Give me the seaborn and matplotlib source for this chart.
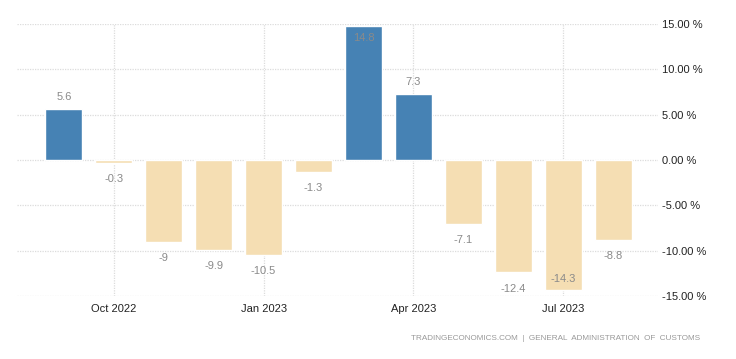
import matplotlib
matplotlib.use("Agg")
import matplotlib.pyplot as plt
import seaborn as sns
import pandas as pd

months = ["Sep 2022", "Oct 2022", "Nov 2022", "Dec 2022", "Jan 2023", "Feb 2023",
          "Mar 2023", "Apr 2023", "May 2023", "Jun 2023", "Jul 2023", "Aug 2023"]
values = [5.6, -0.3, -9.0, -9.9, -10.5, -1.3, 14.8, 7.3, -7.1, -12.4, -14.3, -8.8]
labels = ["5.6", "-0.3", "-9", "-9.9", "-10.5", "-1.3", "14.8", "7.3", "-7.1", "-12.4", "-14.3", "-8.8"]
tick_months = ["Oct 2022", "Jan 2023", "Apr 2023", "Jul 2023"]
yticks = [-15, -10, -5, 0, 5, 10, 15]

df = pd.DataFrame({"month": months, "value": values})
df["sign"] = ["pos" if v >= 0 else "neg" for v in values]

sns.set_theme(style="white")
plt.rcParams["font.family"] = ["Liberation Sans", "DejaVu Sans"]

fig = plt.figure(figsize=(7.36, 3.59), dpi=100)
ax = fig.add_axes([17 / 736, 1 - 296 / 359, (658 - 17) / 736, (296 - 24) / 359])

sns.barplot(data=df, x="month", y="value", hue="sign", order=months,
            palette={"pos": "#4682B4", "neg": "#F5DEB3"}, dodge=False,
            width=0.74, legend=False, ax=ax, saturation=1, zorder=3)

ax.set_xlim(-0.94, 11.9)
ax.set_ylim(-15, 15)
ax.set_xlabel("")
ax.set_ylabel("")

for sp in ax.spines.values():
    sp.set_visible(False)

ax.yaxis.tick_right()
ax.set_yticks(yticks)
ax.set_yticklabels([f"{t:.2f} %" for t in yticks], fontsize=8, color="#222222")
ax.tick_params(axis="y", length=0, pad=3)

pos = [months.index(m) for m in tick_months]
ax.set_xticks(pos)
ax.set_xticklabels(tick_months, fontsize=8, color="#222222")
ax.tick_params(axis="x", length=4, color="#e0e0e0", pad=2)

ax.grid(True, axis="both", color="#dcdcdc", linestyle=(0, (1, 1)), linewidth=0.9, zorder=0)
ax.set_axisbelow(True)

for i, (v, lab) in enumerate(zip(values, labels)):
    if v >= 0:
        if v > 13:
            off, va = -5, "top"
        else:
            off, va = 5, "bottom"
    else:
        if v < -13:
            off, va = 4, "bottom"
        else:
            off, va = -8, "top"
    ax.annotate(lab, (i, v), xytext=(0, off), textcoords="offset points",
                ha="center", va=va, fontsize=8, color="#8a8a8a", zorder=5)

fig.text(700 / 736, 1 - 338 / 359, "TRADINGECONOMICS.COM  |  GENERAL  ADMINISTRATION  OF  CUSTOMS",
         ha="right", va="center", fontsize=5.9, color="#999999")

fig.savefig("out.png", dpi=100)
